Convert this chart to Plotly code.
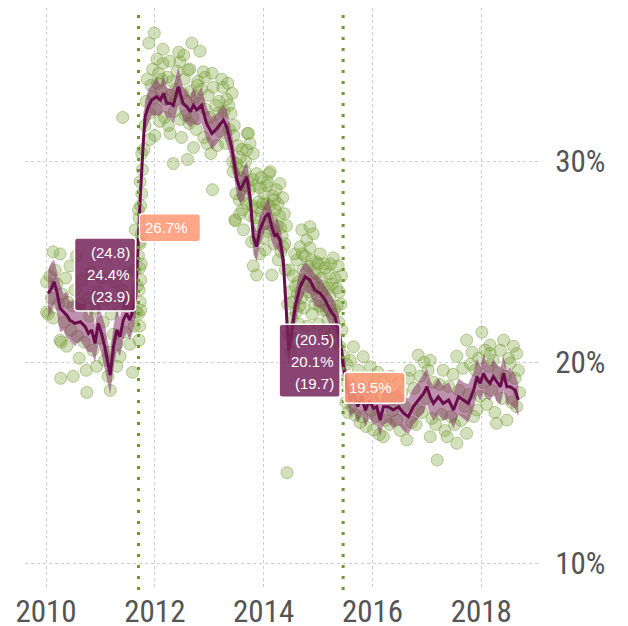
import plotly.graph_objects as go

# ---- data ----
line_year = [2010.04, 2010.10, 2010.15, 2010.20, 2010.26, 2010.32, 2010.38, 2010.44, 2010.53, 2010.63,
             2010.72, 2010.78, 2010.84, 2010.90, 2010.96, 2011.02, 2011.08, 2011.18, 2011.24, 2011.30,
             2011.36, 2011.42, 2011.48, 2011.54, 2011.60, 2011.65, 2011.70, 2011.73, 2011.79, 2011.82,
             2011.88, 2011.94, 2012.03, 2012.10, 2012.16, 2012.22, 2012.28, 2012.34, 2012.43, 2012.52,
             2012.59, 2012.65, 2012.71, 2012.77, 2012.86, 2012.95, 2013.05, 2013.14, 2013.26, 2013.32,
             2013.41, 2013.51, 2013.57, 2013.63, 2013.69, 2013.75, 2013.81, 2013.87, 2013.93, 2014.03,
             2014.09, 2014.15, 2014.21, 2014.24, 2014.30, 2014.36, 2014.42, 2014.46, 2014.52, 2014.58,
             2014.67, 2014.76, 2014.85, 2014.94, 2015.04, 2015.13, 2015.22, 2015.31, 2015.40, 2015.46,
             2015.52, 2015.59, 2015.66, 2015.73, 2015.80, 2015.87, 2015.94, 2016.02, 2016.08, 2016.14,
             2016.20, 2016.29, 2016.38, 2016.48, 2016.57, 2016.66, 2016.75, 2016.84, 2016.94, 2017.00,
             2017.06, 2017.12, 2017.21, 2017.30, 2017.40, 2017.49, 2017.58, 2017.67, 2017.76, 2017.86,
             2017.92, 2017.98, 2018.04, 2018.10, 2018.16, 2018.22, 2018.28, 2018.35, 2018.41, 2018.47,
             2018.53, 2018.62, 2018.68]
line_value = [23.43, 23.68, 24.01, 23.51, 22.69, 22.52, 22.35, 22.10, 21.94, 22.02,
              21.77, 21.44, 21.61, 20.94, 21.94, 21.44, 20.78, 19.36, 20.78, 21.61,
              21.27, 22.10, 22.44, 22.10, 22.60, 23.27, 26.70, 28.10, 31.07, 32.23,
              32.73, 33.06, 33.23, 33.06, 33.40, 32.90, 32.90, 32.80, 33.73, 32.90,
              32.73, 32.48, 32.81, 32.57, 32.81, 31.90, 31.40, 31.65, 32.07, 31.73,
              30.74, 29.08, 28.58, 28.91, 29.24, 28.25, 26.25, 25.76, 26.59, 27.25,
              27.42, 26.75, 26.25, 26.42, 26.09, 25.09, 22.10, 20.60, 21.60, 22.77,
              23.76, 24.26, 24.10, 23.60, 23.43, 23.10, 22.60, 22.27, 21.30, 19.90,
              18.90, 18.10, 18.40, 17.80, 18.30, 17.60, 18.10, 17.70, 17.79, 17.12,
              17.79, 17.79, 17.62, 17.79, 17.46, 17.29, 17.79, 18.12, 18.45, 18.78,
              18.28, 17.95, 18.28, 17.95, 18.12, 17.62, 18.28, 18.12, 17.95, 18.62,
              19.28, 18.95, 19.45, 19.12, 18.95, 19.28, 19.03, 18.78, 19.45, 18.78,
              18.78, 18.62, 18.12]
band_upper = [24.6, 25.0, 25.1, 24.5, 23.9, 23.4, 23.5, 23.0, 23.1, 22.9,
              22.9, 22.3, 22.8, 21.8, 23.0, 22.4, 21.9, 20.4, 21.8, 22.7,
              22.2, 23.1, 23.3, 23.1, 23.6, 24.2, 27.4, 28.9, 31.8, 33.0,
              33.6, 33.8, 34.2, 33.8, 34.3, 33.7, 33.6, 33.7, 34.7, 33.7,
              33.5, 33.2, 33.7, 33.3, 33.7, 32.7, 32.2, 32.4, 32.8, 32.6,
              31.5, 29.8, 29.3, 29.7, 30.0, 29.0, 27.0, 26.5, 27.3, 27.9,
              28.2, 27.5, 26.9, 27.2, 26.8, 25.8, 22.9, 21.5, 22.4, 23.5,
              24.6, 25.0, 24.8, 24.4, 24.2, 23.8, 23.4, 23.0, 22.1, 20.6,
              19.7, 18.9, 19.3, 18.6, 19.2, 18.4, 19.0, 18.5, 18.7, 17.9,
              18.7, 18.6, 18.5, 18.7, 18.3, 18.2, 18.7, 19.0, 19.4, 19.7,
              19.1, 18.8, 19.2, 18.8, 19.0, 18.5, 19.2, 19.0, 18.9, 19.5,
              20.2, 19.8, 20.4, 20.0, 19.8, 20.2, 19.9, 19.7, 20.3, 19.6,
              19.7, 19.4, 18.9]
band_lower = [22.3, 22.5, 22.9, 22.5, 21.5, 21.6, 21.2, 21.1, 20.8, 21.1,
              20.7, 20.5, 20.5, 20.0, 20.9, 20.4, 19.7, 18.4, 19.7, 20.6,
              20.3, 21.1, 21.5, 21.1, 21.6, 22.3, 26.0, 27.3, 30.3, 31.5,
              31.9, 32.3, 32.3, 32.3, 32.5, 32.1, 32.2, 31.9, 32.8, 32.1,
              31.9, 31.7, 31.9, 31.8, 31.9, 31.1, 30.6, 30.9, 31.3, 30.9,
              30.0, 28.3, 27.9, 28.1, 28.5, 27.5, 25.5, 25.0, 25.9, 26.6,
              26.6, 26.0, 25.6, 25.7, 25.4, 24.4, 21.3, 19.8, 20.8, 22.0,
              22.9, 23.5, 23.4, 22.8, 22.7, 22.4, 21.8, 21.5, 20.5, 19.2,
              18.1, 17.3, 17.5, 17.0, 17.4, 16.8, 17.2, 16.9, 16.9, 16.3,
              16.9, 17.0, 16.7, 16.9, 16.6, 16.4, 16.9, 17.2, 17.5, 17.9,
              17.4, 17.1, 17.4, 17.1, 17.2, 16.7, 17.4, 17.2, 17.0, 17.7,
              18.4, 18.1, 18.5, 18.2, 18.1, 18.4, 18.1, 17.9, 18.6, 17.9,
              17.9, 17.7, 17.3]

points = [
    # 2010 - mid 2011
    (2010.01, 24.0), (2010.01, 22.5), (2010.04, 22.4), (2010.07, 24.3), (2010.10, 23.2),
    (2010.13, 25.5), (2010.13, 22.2), (2010.17, 24.6), (2010.20, 23.9), (2010.23, 22.9),
    (2010.26, 25.4), (2010.26, 21.1), (2010.27, 19.2), (2010.28, 21.0), (2010.30, 23.4),
    (2010.33, 22.0), (2010.36, 24.2), (2010.38, 20.8), (2010.40, 23.0), (2010.44, 24.8),
    (2010.46, 21.6), (2010.50, 19.3), (2010.50, 22.8), (2010.53, 23.6), (2010.56, 25.3),
    (2010.58, 21.3), (2010.61, 20.2), (2010.63, 22.9), (2010.66, 24.1), (2010.70, 21.0),
    (2010.74, 19.6), (2010.75, 18.5), (2010.77, 23.2), (2010.80, 22.3), (2010.83, 24.5),
    (2010.86, 20.6), (2010.90, 22.7), (2010.93, 19.8), (2010.96, 23.5), (2010.99, 21.2),
    (2011.02, 24.2), (2011.05, 22.0), (2011.08, 20.1), (2011.11, 23.1), (2011.14, 19.3),
    (2011.15, 20.5), (2011.18, 18.6), (2011.20, 22.4), (2011.24, 21.4), (2011.27, 24.0),
    (2011.30, 20.9), (2011.30, 19.8), (2011.34, 22.8), (2011.36, 20.3), (2011.40, 23.6),
    (2011.41, 32.2), (2011.45, 21.5), (2011.49, 24.4), (2011.52, 22.9), (2011.54, 20.9),
    (2011.57, 23.3), (2011.59, 19.5), (2011.62, 21.8), (2011.64, 24.6), (2011.66, 22.5),
    (2011.68, 23.8), (2011.64, 26.6),
    # cluster at the first break
    (2011.71, 21.1), (2011.72, 21.8), (2011.70, 22.4), (2011.73, 23.0), (2011.71, 23.6),
    (2011.74, 24.1), (2011.72, 24.7), (2011.70, 25.3), (2011.73, 25.9), (2011.75, 26.4),
    (2011.71, 27.2), (2011.74, 27.8), (2011.76, 28.4), (2011.73, 29.0), (2011.77, 29.6),
    (2011.72, 26.0), (2011.75, 24.9), (2011.74, 22.6), (2011.70, 27.6), (2011.76, 30.4),
    # late 2011 - 2013
    (2011.80, 30.6), (2011.82, 31.8), (2011.84, 33.0), (2011.86, 34.1), (2011.89, 35.9),
    (2011.90, 32.4), (2011.91, 31.1), (2011.93, 33.8), (2011.96, 34.6), (2011.99, 36.4),
    (2012.00, 31.3), (2012.02, 32.6), (2012.05, 33.9), (2012.07, 34.4), (2012.09, 32.0),
    (2012.12, 33.5), (2012.15, 35.6), (2012.15, 34.9), (2012.18, 32.2), (2012.20, 33.1),
    (2012.23, 34.2), (2012.25, 31.8), (2012.28, 31.4), (2012.30, 33.3), (2012.32, 34.0),
    (2012.34, 29.9), (2012.36, 32.5), (2012.38, 33.6), (2012.41, 34.5), (2012.44, 35.45),
    (2012.46, 34.97), (2012.47, 32.1), (2012.49, 31.2), (2012.51, 33.4), (2012.54, 34.1),
    (2012.56, 32.3), (2012.58, 33.0), (2012.60, 30.1), (2012.61, 34.56), (2012.63, 31.9),
    (2012.66, 33.5), (2012.68, 35.9), (2012.70, 32.2), (2012.71, 30.7), (2012.74, 33.2),
    (2012.76, 31.6), (2012.79, 34.0), (2012.81, 32.9), (2012.83, 35.5), (2012.86, 33.6),
    (2012.89, 34.47), (2012.90, 31.2), (2012.93, 32.6), (2012.96, 30.9), (2012.98, 33.3),
    (2013.01, 32.2), (2013.03, 30.4), (2013.06, 28.6), (2013.07, 33.7), (2013.09, 31.8),
    (2013.12, 32.8), (2013.15, 30.8), (2013.18, 33.0), (2013.21, 31.5), (2013.25, 33.7),
    (2013.27, 32.5), (2013.30, 30.9), (2013.32, 33.1), (2013.34, 33.9), (2013.37, 31.6),
    (2013.40, 32.4), (2013.43, 30.0), (2013.45, 31.3),
    (2011.98, 33.2), (2012.04, 35.1), (2012.13, 34.1), (2012.27, 35.0), (2012.40, 33.1),
    (2012.53, 35.3), (2012.64, 34.6), (2012.78, 33.8), (2012.92, 34.2), (2013.05, 34.4),
    (2013.16, 32.4), (2013.23, 34.1), (2013.36, 32.8), (2013.42, 33.4),
    # 2013.5 - 2014.4
    (2013.47, 27.1), (2013.48, 27.05), (2013.50, 29.9), (2013.52, 30.8), (2013.55, 28.1),
    (2013.57, 30.2), (2013.59, 29.2), (2013.61, 27.6), (2013.63, 26.6), (2013.65, 28.8),
    (2013.67, 30.0), (2013.69, 27.9), (2013.69, 30.57), (2013.70, 31.4), (2013.72, 31.4),
    (2013.74, 28.6), (2013.76, 27.3), (2013.78, 26.0), (2013.80, 29.1), (2013.81, 24.8),
    (2013.81, 30.4), (2013.84, 27.2), (2013.87, 24.35), (2013.87, 29.4), (2013.89, 26.8),
    (2013.91, 28.0), (2013.93, 25.4), (2013.93, 28.7), (2013.96, 27.5), (2013.99, 26.2),
    (2014.01, 28.4), (2014.03, 25.6), (2014.05, 27.9), (2014.07, 29.0), (2014.09, 26.5),
    (2014.10, 29.4), (2014.12, 29.5), (2014.14, 27.2), (2014.15, 24.35), (2014.17, 28.3),
    (2014.19, 25.9), (2014.21, 27.6), (2014.23, 28.6), (2014.25, 26.8), (2014.27, 25.1),
    (2014.29, 27.3), (2014.30, 28.9), (2014.32, 25.5), (2014.34, 26.3), (2014.36, 25.75),
    (2014.38, 27.4), (2014.40, 24.6), (2014.42, 26.8),
    (2013.44, 29.5), (2013.46, 31.8), (2013.49, 28.4), (2013.53, 29.6), (2013.56, 27.4),
    (2013.60, 30.6), (2013.62, 28.3), (2013.66, 29.5), (2013.71, 29.0), (2013.75, 30.9),
    (2013.79, 27.8), (2013.83, 28.8), (2013.86, 26.1), (2013.90, 27.7), (2013.95, 29.2),
    (2013.98, 27.9), (2014.02, 26.9), (2014.06, 28.8), (2014.11, 27.8), (2014.16, 26.6),
    (2014.20, 28.1), (2014.26, 27.9), (2014.31, 26.7), (2014.35, 28.2), (2014.39, 25.9),
    # 2014.4 - 2015.45
    (2014.43, 14.5), (2014.44, 22.9), (2014.46, 21.4), (2014.48, 23.5), (2014.50, 20.5),
    (2014.52, 22.2), (2014.54, 24.3), (2014.56, 21.1), (2014.58, 23.8), (2014.60, 22.5),
    (2014.61, 25.1), (2014.63, 24.0), (2014.65, 21.9), (2014.67, 25.75), (2014.69, 23.2),
    (2014.70, 26.6), (2014.72, 24.6), (2014.74, 22.7), (2014.76, 25.3), (2014.78, 23.9),
    (2014.80, 21.8), (2014.82, 24.8), (2014.85, 26.75), (2014.85, 25.7), (2014.87, 23.3),
    (2014.89, 22.4), (2014.91, 26.4), (2014.93, 24.5), (2014.95, 22.9), (2014.97, 25.0),
    (2014.99, 23.7), (2015.01, 21.9), (2015.04, 25.4), (2015.06, 24.2), (2015.08, 22.6),
    (2015.10, 23.8), (2015.12, 21.5), (2015.14, 24.7), (2015.16, 23.1), (2015.18, 22.1),
    (2015.20, 24.4), (2015.22, 23.3), (2015.24, 21.4), (2015.26, 23.9), (2015.28, 25.2),
    (2015.30, 22.6), (2015.32, 21.0), (2015.34, 23.7), (2015.37, 24.8), (2015.38, 22.0),
    (2015.40, 20.8), (2015.42, 22.9), (2015.44, 21.6),
    (2014.47, 24.6), (2014.53, 23.0), (2014.57, 25.4), (2014.62, 23.4), (2014.66, 22.8),
    (2014.71, 25.4), (2014.75, 24.1), (2014.79, 26.1), (2014.83, 23.5), (2014.88, 25.1),
    (2014.92, 23.9), (2014.96, 24.4), (2015.00, 24.9), (2015.03, 22.8), (2015.07, 23.5),
    (2015.11, 24.9), (2015.15, 22.6), (2015.19, 23.7), (2015.23, 24.9), (2015.27, 22.4),
    (2015.31, 24.2), (2015.35, 22.8), (2015.39, 23.5), (2015.43, 24.3),
    # 2015.5 - 2018.7
    (2015.47, 20.3), (2015.49, 19.1), (2015.51, 18.0), (2015.53, 19.9), (2015.55, 17.5),
    (2015.57, 18.7), (2015.59, 20.1), (2015.62, 17.8), (2015.65, 20.77), (2015.66, 19.0),
    (2015.68, 17.37), (2015.71, 18.4), (2015.74, 19.6), (2015.77, 17.0), (2015.80, 17.29),
    (2015.83, 20.28), (2015.85, 18.5), (2015.88, 16.8), (2015.91, 19.2), (2015.96, 19.78),
    (2015.98, 17.6), (2016.02, 16.63), (2016.04, 18.9), (2016.07, 17.3), (2016.10, 19.5),
    (2016.13, 16.4), (2016.16, 18.3), (2016.20, 16.29), (2016.22, 19.1), (2016.25, 17.1),
    (2016.28, 18.6), (2016.31, 16.9), (2016.34, 19.3), (2016.37, 17.6), (2016.41, 18.2),
    (2016.45, 17.12), (2016.48, 19.0), (2016.51, 16.6), (2016.54, 18.5), (2016.58, 17.8),
    (2016.63, 16.13), (2016.66, 19.2), (2016.69, 19.6), (2016.72, 17.0), (2016.76, 18.7),
    (2016.80, 16.9), (2016.84, 20.36), (2016.84, 17.62), (2016.88, 19.3), (2016.91, 17.5),
    (2016.95, 20.0), (2016.98, 18.2), (2017.02, 19.6), (2017.06, 20.1), (2017.06, 16.29),
    (2017.09, 17.2), (2017.12, 19.0), (2017.16, 16.9), (2017.19, 15.13), (2017.23, 18.9),
    (2017.27, 17.4), (2017.30, 19.6), (2017.33, 16.6), (2017.37, 16.29), (2017.40, 18.8),
    (2017.44, 17.3), (2017.48, 19.4), (2017.51, 16.9), (2017.55, 20.3), (2017.55, 15.96),
    (2017.59, 18.6), (2017.63, 17.1), (2017.66, 19.7), (2017.70, 17.8), (2017.73, 21.1),
    (2017.73, 16.46), (2017.77, 18.4), (2017.80, 19.9), (2017.83, 20.5), (2017.86, 17.3),
    (2017.89, 19.6), (2017.92, 17.62), (2017.95, 20.2), (2017.98, 18.3), (2018.01, 21.5),
    (2018.04, 19.0), (2018.07, 20.6), (2018.10, 17.9), (2018.13, 19.8), (2018.16, 20.86),
    (2018.16, 20.44), (2018.19, 18.6), (2018.22, 20.1), (2018.25, 17.5), (2018.28, 16.96),
    (2018.31, 19.5), (2018.35, 20.6), (2018.38, 18.2), (2018.41, 21.1), (2018.44, 19.3),
    (2018.47, 17.12), (2018.50, 20.2), (2018.53, 19.95), (2018.56, 18.0), (2018.59, 20.8),
    (2018.62, 19.2), (2018.65, 20.44), (2018.65, 17.79), (2018.68, 19.6), (2018.70, 18.5),
]
point_year = [p[0] for p in points]
point_value = [p[1] for p in points]

break_dates = [2011.70, 2015.46]
mean_labels = [("(24.8)", "24.4%", "(23.9)"), ("(20.5)", "20.1%", "(19.7)")]
mean_values = [24.4, 20.1]
level_labels = ["26.7%", "19.5%"]
level_values = [26.7, 19.5]

x_ticks = [2010, 2012, 2014, 2016, 2018]
y_ticks = [10, 20, 30]
y_tick_text = ["10%", "20%", "30%"]

# ---- styles ----
LINE_COL = "#6a0d4c"
AXIS_FONT = dict(family="Liberation Sans Narrow, Arial Narrow, Roboto Condensed, Liberation Sans, sans-serif",
                 size=31, color="#555555")
LABEL_FONT = dict(family="Liberation Sans", size=15, color="white")

fig = go.Figure()

fig.add_trace(go.Scatter(
    x=point_year, y=point_value, mode="markers",
    marker=dict(size=12, color="rgba(122,160,58,0.33)",
                line=dict(color="rgba(122,160,58,0.5)", width=1)),
    hoverinfo="skip"))

fig.add_trace(go.Scatter(
    x=line_year + line_year[::-1], y=band_upper + band_lower[::-1],
    fill="toself", fillcolor="rgba(125,35,95,0.5)", line=dict(width=0),
    mode="lines", hoverinfo="skip"))

fig.add_trace(go.Scatter(
    x=line_year, y=line_value, mode="lines",
    line=dict(color=LINE_COL, width=3), hoverinfo="skip"))


def rrect(x0, x1, y0, y1, r=3):
    return (f"M {x0+r},{y0} L {x1-r},{y0} Q {x1},{y0} {x1},{y0+r} "
            f"L {x1},{y1-r} Q {x1},{y1} {x1-r},{y1} L {x0+r},{y1} "
            f"Q {x0},{y1} {x0},{y1-r} L {x0},{y0+r} Q {x0},{y0} {x0+r},{y0} Z")


shapes = []
annotations = []
for d in break_dates:
    shapes.append(dict(type="line", xref="x", yref="paper", x0=d, x1=d, y0=0, y1=1,
                       line=dict(color="#6f9a2a", width=3, dash="3px,8px"), layer="above"))

for d, v, lab in zip(break_dates, mean_values, mean_labels):
    shapes.append(dict(type="path", xref="x", yref="y", xsizemode="pixel", ysizemode="pixel",
                       xanchor=d, yanchor=v, path=rrect(-64, -3, -37, 36),
                       fillcolor="rgba(118,35,90,0.85)", line=dict(color="white", width=1.5),
                       layer="above"))
    for txt, sh in zip(lab, [21, -1, -23]):
        annotations.append(dict(x=d, y=v, xref="x", yref="y", text=txt, showarrow=False,
                                xanchor="right", yanchor="middle", xshift=-7, yshift=sh,
                                font=LABEL_FONT))

level_box = [(-14, 14), (-31, 0)]
for d, v, lab, (b0, b1) in zip(break_dates, level_values, level_labels, level_box):
    shapes.append(dict(type="path", xref="x", yref="y", xsizemode="pixel", ysizemode="pixel",
                       xanchor=d, yanchor=v, path=rrect(1, 62, b0, b1),
                       fillcolor="rgba(255,150,115,0.85)", line=dict(color="white", width=1.5),
                       layer="above"))
    annotations.append(dict(x=d, y=v, xref="x", yref="y", text=lab, showarrow=False,
                            xanchor="left", yanchor="middle", xshift=4, yshift=(b0 + b1) / 2,
                            font=LABEL_FONT))

fig.update_layout(
    width=628, height=626,
    margin=dict(l=17, r=97, t=0, b=44),
    paper_bgcolor="white", plot_bgcolor="white",
    showlegend=False,
    shapes=shapes, annotations=annotations,
    xaxis=dict(range=[2009.614, 2019.06], tickvals=x_ticks, ticktext=[str(t) for t in x_ticks],
               showgrid=True, gridcolor="#cccccc", griddash="dot", gridwidth=1,
               zeroline=False, showline=False, ticks="",
               tickfont=AXIS_FONT, automargin=False),
    yaxis=dict(range=[8.655, 37.65], tickvals=y_ticks, ticktext=y_tick_text, side="right",
               showgrid=True, gridcolor="#cccccc", griddash="dot", gridwidth=1,
               zeroline=False, showline=False, ticks="outside", ticklen=9,
               tickcolor="rgba(0,0,0,0)", tickfont=AXIS_FONT, automargin=False),
)

fig.write_html("out.html")
